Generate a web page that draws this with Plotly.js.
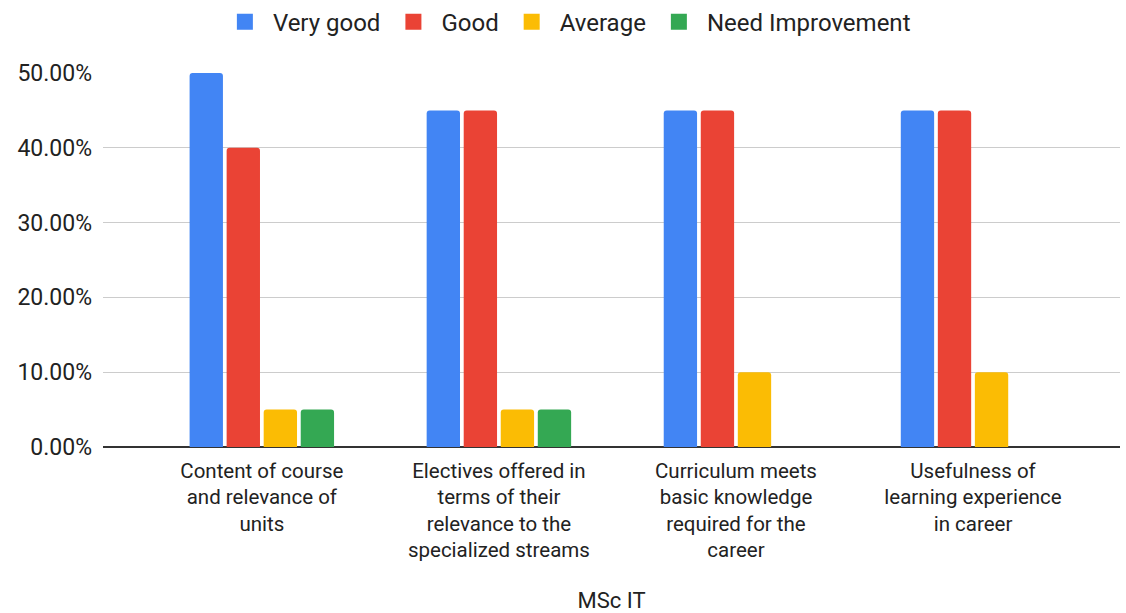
<!DOCTYPE html>
<html>
<head>
<meta charset="utf-8">
<script src="https://cdn.plot.ly/plotly-3.0.1.min.js"></script>
<style>html,body{margin:0;padding:0;background:#fff;}#chart{width:1126px;height:613px;}</style>
</head>
<body>
<div id="chart"></div>
<script>
const categories = [
  "Content of course<br>and relevance of<br>units",
  "Electives offered in<br>terms of their<br>relevance to the<br>specialized streams",
  "Curriculum meets<br>basic knowledge<br>required for the<br>career",
  "Usefulness of<br>learning experience<br>in career"
];
const seriesNames = ["Very good", "Good", "Average", "Need Improvement"];
const veryGood = [0.50, 0.45, 0.45, 0.45];
const good = [0.40, 0.45, 0.45, 0.45];
const average = [0.05, 0.05, 0.10, 0.10];
const needImprovement = [0.05, 0.05, 0, 0];
const colors = ["#4285F4", "#EA4335", "#FBBC04", "#34A853"];
const yTicks = [0, 0.1, 0.2, 0.3, 0.4, 0.5];

const allValues = [veryGood, good, average, needImprovement];
const barTraces = allValues.map((vals, i) => ({
  type: "bar",
  name: seriesNames[i],
  x: [0, 1, 2, 3],
  y: vals,
  marker: {color: colors[i]},
  showlegend: false,
  legendgroup: "g" + i
}));
// legend entries with larger square swatches
const legendTraces = seriesNames.map((n, i) => ({
  type: "scatter",
  mode: "markers",
  name: n,
  x: [null], y: [null],
  marker: {symbol: "square", size: 22, color: colors[i]},
  legendgroup: "g" + i,
  showlegend: true
}));

const layout = {
  width: 1126, height: 613,
  margin: {l: 103, r: 6, t: 73, b: 166, autoexpand: false},
  paper_bgcolor: "#fff", plot_bgcolor: "#fff",
  font: {family: "Roboto, Arial, sans-serif", color: "#222", size: 22},
  barmode: "group",
  bargap: 0.375,
  bargroupgap: 0.1,
  barcornerradius: 3,
  showlegend: true,
  legend: {
    orientation: "h", x: 0.503, xanchor: "center", xref: "container",
    y: 1.136, yanchor: "middle",
    font: {size: 24, color: "#222"},
    itemsizing: "trace",
    itemwidth: 46
  },
  xaxis: {
    range: [-0.67, 3.62],
    tickvals: [0, 1, 2, 3],
    ticktext: categories,
    tickfont: {size: 20.5, color: "#222"},
    showgrid: false,
    zeroline: false,
    showline: false,
    ticks: "",
    ticklabelstandoff: 9,
    title: {text: "MSc IT", font: {size: 22, color: "#222"}, standoff: 39}
  },
  yaxis: {
    range: [0, 0.5],
    tickvals: yTicks,
    tickformat: ".2%",
    tickfont: {size: 23, color: "#222"},
    gridcolor: "#cccccc",
    gridwidth: 1,
    zeroline: true,
    zerolinecolor: "#333333",
    zerolinewidth: 2,
    showline: false,
    ticks: "",
    ticklabelstandoff: 10
  }
};

Plotly.newPlot("chart", barTraces.concat(legendTraces), layout, {displayModeBar: false, staticPlot: true});
</script>
</body>
</html>
